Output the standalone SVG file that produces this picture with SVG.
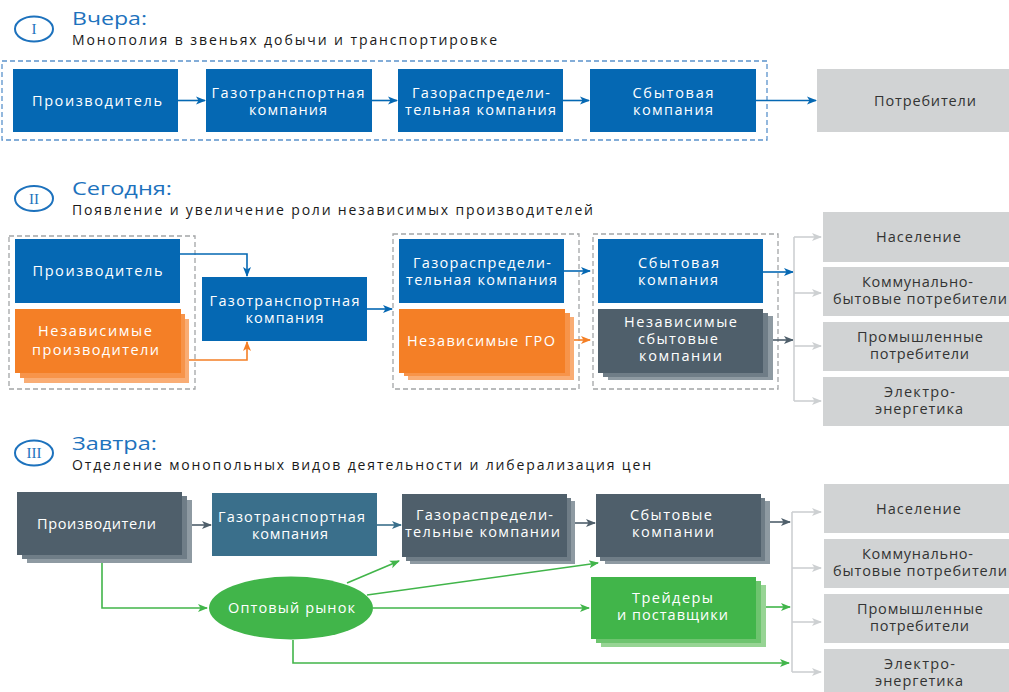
<svg xmlns="http://www.w3.org/2000/svg" width="1009" height="692" viewBox="0 0 1009 692">
<defs>
<style>
text{font-family:"Open Sans","Noto Sans","DejaVu Sans",sans-serif;}
.bt{fill:#ffffff;font-size:14.5px;text-anchor:middle;}
.dt{fill:#333333;font-size:14.5px;text-anchor:middle;}
.title{fill:#1d72bd;font-size:18.5px;}
.sub{fill:#1a1a1a;font-size:14px;}
.num{fill:#1d72bd;font-family:"Liberation Serif",serif;font-size:15px;text-anchor:middle;}
.numc{fill:none;stroke:#1d72bd;stroke-width:2;}
.blue{fill:#0568b3;}
.orange{fill:#f47f26;}
.orange2{fill:#f7944a;}
.orange3{fill:#f9ad75;}
.gray{fill:#d1d3d4;}
.dark{fill:#4f5f6b;}
.dark2{fill:#6f7d87;}
.dark3{fill:#8e9aa2;}
.steel{fill:#3a6f8b;}
.green{fill:#41b54a;}
.green2{fill:#6ec46f;}
.green3{fill:#97d494;}
.dashb{fill:none;stroke:#5b93cc;stroke-width:1.3;stroke-dasharray:5 3;}
.dashg{fill:none;stroke:#a3a5a7;stroke-width:1.3;stroke-dasharray:5 3;}
.c{fill:none;stroke-width:1.6;}
.cb{stroke:#0568b3;marker-end:url(#mb);}
.co{stroke:#f47f26;marker-end:url(#mo);}
.cd{stroke:#4f5f6b;marker-end:url(#md);}
.cs{stroke:#3a6f8b;marker-end:url(#ms);}
.cg{stroke:#41b54a;marker-end:url(#mg);}
.cl{stroke:#cdd0d2;}
.cla{stroke:#cdd0d2;marker-end:url(#ml);}
</style>
<marker id="mb" markerWidth="10" markerHeight="10" refX="9" refY="5" orient="auto" markerUnits="userSpaceOnUse"><path d="M0,1 L10,5 L0,9 L2.5,5 z" fill="#0568b3"/></marker>
<marker id="mo" markerWidth="10" markerHeight="10" refX="9" refY="5" orient="auto" markerUnits="userSpaceOnUse"><path d="M0,1 L10,5 L0,9 L2.5,5 z" fill="#f47f26"/></marker>
<marker id="md" markerWidth="10" markerHeight="10" refX="9" refY="5" orient="auto" markerUnits="userSpaceOnUse"><path d="M0,1 L10,5 L0,9 L2.5,5 z" fill="#4f5f6b"/></marker>
<marker id="ms" markerWidth="10" markerHeight="10" refX="9" refY="5" orient="auto" markerUnits="userSpaceOnUse"><path d="M0,1 L10,5 L0,9 L2.5,5 z" fill="#3a6f8b"/></marker>
<marker id="mg" markerWidth="10" markerHeight="10" refX="9" refY="5" orient="auto" markerUnits="userSpaceOnUse"><path d="M0,1 L10,5 L0,9 L2.5,5 z" fill="#41b54a"/></marker>
<marker id="ml" markerWidth="10" markerHeight="10" refX="9" refY="5" orient="auto" markerUnits="userSpaceOnUse"><path d="M0,1 L10,5 L0,9 L2.5,5 z" fill="#cdd0d2"/></marker>
</defs>
<rect width="1009" height="692" fill="#ffffff"/>

<!-- Section headers -->
<g id="header1">
<ellipse class="numc" cx="34" cy="29" rx="19" ry="12.5"/>
<text class="num" x="34" y="34">I</text>
<text class="title" x="72" y="25" textLength="75" lengthAdjust="spacingAndGlyphs">Вчера:</text>
<text class="sub" x="72" y="44.5" textLength="425">Монополия в звеньях добычи и транспортировке</text>
</g>
<g id="header2">
<ellipse class="numc" cx="34" cy="198.5" rx="19" ry="12.5"/>
<text class="num" x="34" y="203.5">II</text>
<text class="title" x="72" y="195" textLength="100" lengthAdjust="spacingAndGlyphs">Сегодня:</text>
<text class="sub" x="72" y="214.5" textLength="521">Появление и увеличение роли независимых производителей</text>
</g>
<g id="header3">
<ellipse class="numc" cx="34" cy="453" rx="19" ry="12.5"/>
<text class="num" x="34" y="458">III</text>
<text class="title" x="72" y="450" textLength="85" lengthAdjust="spacingAndGlyphs">Завтра:</text>
<text class="sub" x="72" y="469.5" textLength="579">Отделение монопольных видов деятельности и либерализация цен</text>
</g>

<!-- Group frames -->
<g id="frames">
<rect class="dashb" x="2" y="61" width="765" height="79"/>
<rect class="dashg" x="9" y="236" width="186" height="153"/>
<rect class="dashg" x="393" y="234" width="186" height="155"/>
<rect class="dashg" x="593" y="234" width="185" height="155"/>
</g>

<!-- Connectors -->
<g id="connectors">
<path class="c cb" d="M178,100.5 H205"/>
<path class="c cb" d="M372,100.5 H397"/>
<path class="c cb" d="M563,100.5 H589"/>
<path class="c cb" d="M756,100.5 H816"/>

<path class="c cb" d="M180,254 H247 V276"/>
<path class="c co" d="M181,360 H247 V342"/>
<path class="c cb" d="M367,309 H392"/>
<path class="c cb" d="M564,271 H590"/>
<path class="c co" d="M566,340 H590"/>
<path class="c cb" d="M763,272 H793"/>
<path class="c cd" d="M773,340 H793"/>
<path class="c cl" d="M794,237 V401"/>
<path class="c cla" d="M794,237 H821"/>
<path class="c cla" d="M794,293 H821"/>
<path class="c cla" d="M794,346 H821"/>
<path class="c cla" d="M794,401 H821"/>

<path class="c cd" d="M192,525 H211"/>
<path class="c cs" d="M377,525 H401"/>
<path class="c cd" d="M575,523 H595"/>
<path class="c cd" d="M770,522 H790"/>
<path class="c cg" d="M102,555 V608 H207"/>
<path class="c cg" d="M347,583 L399,561"/>
<path class="c cg" d="M367,595 L598,563"/>
<path class="c cg" d="M373,608 H589"/>
<path class="c cg" d="M293,640 V663 H789"/>
<path class="c cg" d="M766,607 H790"/>
<path class="c cl" d="M792,512 V672"/>
<path class="c cla" d="M792,512 H821"/>
<path class="c cla" d="M792,568 H821"/>
<path class="c cla" d="M792,622 H821"/>
<path class="c cla" d="M792,672 H821"/>
</g>

<!-- Section I nodes -->
<g id="n1-producer"><rect class="blue" x="13" y="69" width="165" height="63"/><text class="bt" x="97" y="106" textLength="130">Производитель</text></g>
<g id="n1-transport"><rect class="blue" x="206" y="69" width="166" height="63"/><text class="bt" x="288" y="97.5" textLength="153">Газотранспортная</text><text class="bt" x="288" y="114.5" textLength="78">компания</text></g>
<g id="n1-distrib"><rect class="blue" x="398" y="69" width="165" height="63"/><text class="bt" x="481" y="97.5" textLength="138">Газораспредели-</text><text class="bt" x="480.5" y="114.5" textLength="151">тельная компания</text></g>
<g id="n1-sales"><rect class="blue" x="590" y="69" width="166" height="63"/><text class="bt" x="673" y="97.5" textLength="81">Сбытовая</text><text class="bt" x="673" y="114.5" textLength="80">компания</text></g>
<g id="n1-consumers"><rect class="gray" x="817" y="69" width="192" height="63"/><text class="dt" x="925" y="106" textLength="102">Потребители</text></g>

<!-- Section II nodes -->
<g id="n2-producer"><rect class="blue" x="15" y="239" width="165" height="64"/><text class="bt" x="97.5" y="276" textLength="130">Производитель</text></g>
<g id="n2-indep-prod">
<rect class="orange3" x="24" y="319" width="165" height="64"/>
<rect class="orange2" x="20" y="314" width="165" height="64"/>
<rect class="orange" x="15" y="309" width="166" height="64"/>
<text class="bt" x="95" y="336" textLength="114">Независимые</text><text class="bt" x="95.5" y="355" textLength="127">производители</text></g>
<g id="n2-transport"><rect class="blue" x="202" y="277" width="165" height="64"/><text class="bt" x="284.5" y="306" textLength="150">Газотранспортная</text><text class="bt" x="284.5" y="323" textLength="78">компания</text></g>
<g id="n2-distrib"><rect class="blue" x="399" y="239" width="165" height="64"/><text class="bt" x="482" y="268" textLength="138">Газораспредели-</text><text class="bt" x="481.5" y="285" textLength="151">тельная компания</text></g>
<g id="n2-indep-gro">
<rect class="orange3" x="408" y="317" width="166" height="63"/>
<rect class="orange2" x="404" y="313" width="166" height="63"/>
<rect class="orange" x="399" y="309" width="166" height="64"/>
<text class="bt" x="481" y="346" textLength="148">Независимые ГРО</text></g>
<g id="n2-sales"><rect class="blue" x="598" y="239" width="165" height="64"/><text class="bt" x="678.5" y="268" textLength="81">Сбытовая</text><text class="bt" x="678" y="285" textLength="80">компания</text></g>
<g id="n2-indep-sales">
<rect class="dark3" x="608" y="316" width="165" height="64"/>
<rect class="dark2" x="603" y="313" width="165" height="64"/>
<rect class="dark" x="598" y="309" width="165" height="64"/>
<text class="bt" x="680.5" y="327" textLength="113">Независимые</text><text class="bt" x="678" y="344" textLength="80">сбытовые</text><text class="bt" x="680.5" y="361" textLength="83">компании</text></g>
<g id="n2-c1"><rect class="gray" x="823" y="212" width="186" height="50"/><text class="dt" x="918.5" y="242" textLength="85">Население</text></g>
<g id="n2-c2"><rect class="gray" x="823" y="267" width="186" height="49"/><text class="dt" x="917.5" y="287" textLength="111">Коммунально-</text><text class="dt" x="920" y="304" textLength="174">бытовые потребители</text></g>
<g id="n2-c3"><rect class="gray" x="823" y="322" width="186" height="49"/><text class="dt" x="920" y="342" textLength="126">Промышленные</text><text class="dt" x="919.5" y="359" textLength="99">потребители</text></g>
<g id="n2-c4"><rect class="gray" x="823" y="377" width="186" height="49"/><text class="dt" x="919.5" y="397" textLength="71">Электро-</text><text class="dt" x="919" y="414" textLength="88">энергетика</text></g>

<!-- Section III nodes -->
<g id="n3-producers">
<rect class="dark3" x="27" y="500" width="165" height="63"/>
<rect class="dark2" x="22" y="496" width="165" height="63"/>
<rect class="dark" x="17" y="492" width="165" height="63"/>
<text class="bt" x="96.5" y="529" textLength="119">Производители</text></g>
<g id="n3-transport"><rect class="steel" x="212" y="493" width="165" height="63"/><text class="bt" x="291.5" y="522" textLength="147">Газотранспортная</text><text class="bt" x="290" y="539" textLength="76">компания</text></g>
<g id="n3-distrib">
<rect class="dark3" x="410" y="501" width="165" height="63"/>
<rect class="dark2" x="406" y="498" width="165" height="63"/>
<rect class="dark" x="402" y="494" width="165" height="63"/>
<text class="bt" x="484.5" y="520" textLength="137">Газораспредели-</text><text class="bt" x="482.5" y="537" textLength="155">тельные компании</text></g>
<g id="n3-sales">
<rect class="dark3" x="605" y="501" width="165" height="63"/>
<rect class="dark2" x="600" y="498" width="165" height="63"/>
<rect class="dark" x="596" y="494" width="165" height="63"/>
<text class="bt" x="671" y="520" textLength="82">Сбытовые</text><text class="bt" x="673" y="537" textLength="82">компании</text></g>
<g id="n3-market"><ellipse class="green" cx="291" cy="608" rx="82" ry="31.5"/><text class="bt" x="291.5" y="613" textLength="127">Оптовый рынок</text></g>
<g id="n3-traders">
<rect class="green3" x="601" y="585" width="165" height="62"/>
<rect class="green2" x="596" y="581" width="165" height="62"/>
<rect class="green" x="591" y="577" width="165" height="62"/>
<text class="bt" x="672.5" y="603" textLength="81">Трейдеры</text><text class="bt" x="672.5" y="620" textLength="111">и поставщики</text></g>
<g id="n3-c1"><rect class="gray" x="824" y="484" width="185" height="49"/><text class="dt" x="918.5" y="514" textLength="85">Население</text></g>
<g id="n3-c2"><rect class="gray" x="824" y="539" width="185" height="49"/><text class="dt" x="917.5" y="559" textLength="111">Коммунально-</text><text class="dt" x="920" y="576" textLength="174">бытовые потребители</text></g>
<g id="n3-c3"><rect class="gray" x="824" y="594" width="185" height="49"/><text class="dt" x="920" y="614" textLength="126">Промышленные</text><text class="dt" x="919.5" y="631" textLength="99">потребители</text></g>
<g id="n3-c4"><rect class="gray" x="824" y="649" width="185" height="49"/><text class="dt" x="919.5" y="669" textLength="71">Электро-</text><text class="dt" x="919" y="686" textLength="88">энергетика</text></g>
</svg>
